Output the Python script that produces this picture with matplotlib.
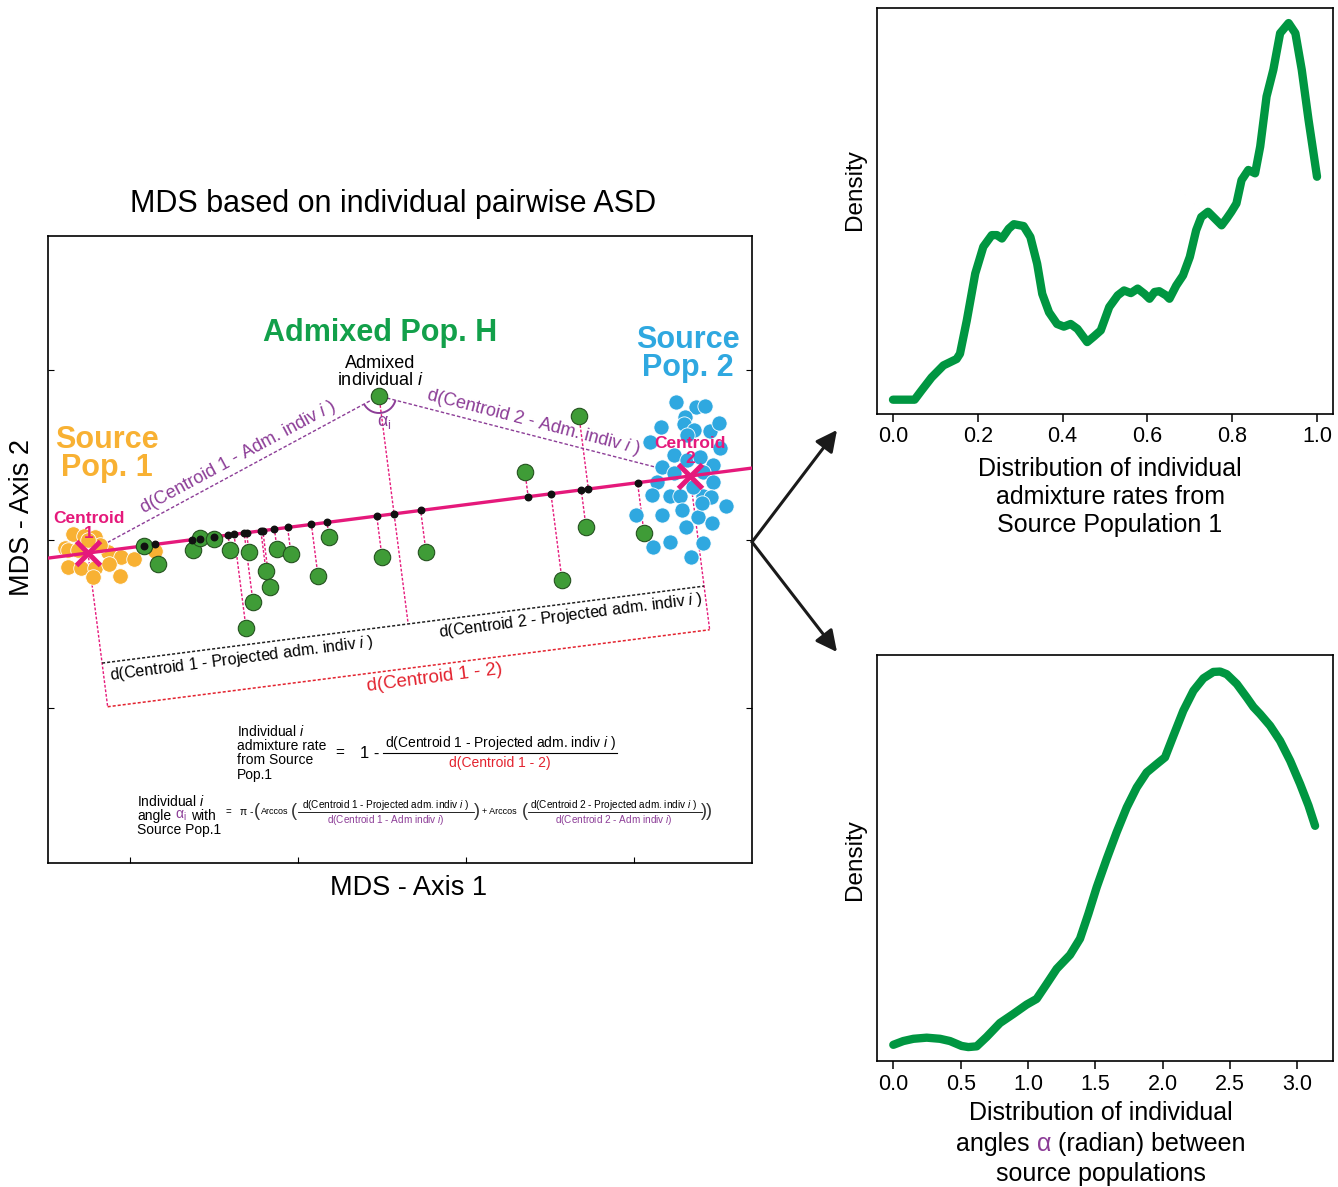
import numpy as np
import matplotlib
matplotlib.use("Agg")
import matplotlib.pyplot as plt
from matplotlib.patches import Arc

plt.rcParams["font.family"] = ["Liberation Sans", "DejaVu Sans"]
plt.rcParams["mathtext.fontset"] = "custom"
plt.rcParams["mathtext.rm"] = "Liberation Sans"
plt.rcParams["mathtext.it"] = "Liberation Sans:italic"
plt.rcParams["mathtext.bf"] = "Liberation Sans:bold"

PINK = "#e5197b"
GREEN_TXT = "#12a04a"
GREEN_DOT = "#3f9c37"
ORANGE = "#f8b133"
BLUE = "#2fa8e0"
PURPLE = "#8c3d97"
RED = "#e3232f"
CURVE = "#009641"

# ---- MDS coordinates (axis 1, axis 2) ----
centroid1 = (40, 310)
centroid2 = (642, 387)
indiv_i = (331, 467)

adm_x = [96, 110, 145, 152, 166, 182, 201, 218, 222, 205, 198, 229, 243, 270, 281,
         334, 378, 477, 531, 538, 514, 596]
adm_y = [317, 299, 313, 325, 324, 313, 311, 292, 276, 261, 235, 314, 309, 287, 326,
         306, 311, 391, 447, 336, 283, 330]

src1_x = [17, 25, 36, 47, 20, 30, 60, 73, 86, 20, 33, 47, 61, 45, 72, 107, 52, 40]
src1_y = [315, 329, 327, 326, 313, 313, 311, 306, 304, 296, 295, 295, 299, 286, 287, 312, 318, 323]

src2_x = [628, 648, 657, 637, 636, 613, 646, 662, 671, 639, 602, 626, 639, 652, 672, 665,
          614, 626, 655, 609, 665, 604, 622, 632, 655, 663, 678, 588, 614, 634, 650, 664,
          638, 605, 622, 655, 643, 654, 645]
src2_y = [461, 456, 457, 446, 439, 436, 433, 432, 440, 428, 421, 408, 403, 406, 415, 398,
          396, 390, 391, 381, 381, 368, 367, 367, 367, 366, 357, 348, 348, 353, 346, 340,
          336, 316, 321, 320, 306, 360, 376]

# ---- density curves ----
rate_x = [0.000, 0.051, 0.067, 0.091, 0.119, 0.150, 0.158, 0.174, 0.194, 0.213, 0.233,
          0.245, 0.257, 0.273, 0.285, 0.308, 0.324, 0.340, 0.352, 0.368, 0.387, 0.403,
          0.419, 0.435, 0.458, 0.474, 0.490, 0.510, 0.530, 0.545, 0.561, 0.577, 0.593,
          0.605, 0.617, 0.628, 0.644, 0.652, 0.668, 0.684, 0.700, 0.715, 0.727, 0.743,
          0.759, 0.775, 0.787, 0.798, 0.810, 0.822, 0.838, 0.854, 0.866, 0.881, 0.897,
          0.913, 0.933, 0.949, 0.964, 0.980, 1.000]
rate_d = [0.000, 0.000, 0.024, 0.059, 0.091, 0.108, 0.122, 0.210, 0.335, 0.406, 0.437,
          0.437, 0.428, 0.454, 0.466, 0.461, 0.432, 0.361, 0.281, 0.232, 0.201, 0.194,
          0.201, 0.188, 0.153, 0.168, 0.184, 0.246, 0.277, 0.290, 0.283, 0.295, 0.281,
          0.268, 0.286, 0.288, 0.277, 0.268, 0.303, 0.330, 0.379, 0.450, 0.485, 0.499,
          0.481, 0.463, 0.481, 0.499, 0.521, 0.583, 0.610, 0.601, 0.672, 0.805, 0.876,
          0.973, 1.000, 0.973, 0.876, 0.743, 0.592]

angle_x = [0.000, 0.074, 0.149, 0.248, 0.347, 0.421, 0.507, 0.557, 0.619, 0.693, 0.792,
           0.891, 0.990, 1.064, 1.139, 1.213, 1.312, 1.386, 1.448, 1.510, 1.584, 1.658,
           1.733, 1.807, 1.881, 1.955, 2.017, 2.079, 2.153, 2.228, 2.302, 2.376, 2.426,
           2.475, 2.550, 2.624, 2.673, 2.723, 2.797, 2.871, 2.946, 3.020, 3.082, 3.131]
angle_d = [0.006, 0.016, 0.022, 0.025, 0.022, 0.016, 0.003, 0.000, 0.002, 0.027, 0.064,
           0.088, 0.113, 0.128, 0.168, 0.208, 0.245, 0.288, 0.354, 0.425, 0.500, 0.571,
           0.637, 0.690, 0.730, 0.752, 0.770, 0.827, 0.894, 0.947, 0.980, 0.997, 0.998,
           0.991, 0.965, 0.929, 0.904, 0.885, 0.854, 0.814, 0.761, 0.699, 0.642, 0.588]

rate_ticks = [0.0, 0.2, 0.4, 0.6, 0.8, 1.0]
angle_ticks = [0.0, 0.5, 1.0, 1.5, 2.0, 2.5, 3.0]

W, H = 1338, 1187
fig = plt.figure(figsize=(W / 100, H / 100), dpi=100)


def frac(l, t, r, b):
    return [l / W, 1 - b / H, (r - l) / W, (b - t) / H]


# ================= MDS panel =================
ax = fig.add_axes(frac(48, 236, 752, 863))
ax.set_xlim(0, 704)
ax.set_ylim(0, 627)
ax.set_xticks([82, 250, 418, 586])
ax.set_yticks([155, 323, 493])
ax.tick_params(direction="in", length=4, width=0.8, right=True,
               labelleft=False, labelbottom=False)
for s in ax.spines.values():
    s.set_linewidth(1.2)

c1 = np.array(centroid1, float)
c2 = np.array(centroid2, float)
pi_ = np.array(indiv_i, float)
u = (c2 - c1) / np.linalg.norm(c2 - c1)
pd_ = np.array([u[1], -u[0]])  # perpendicular, pointing down
ang = np.degrees(np.arctan2(u[1], u[0]))


def foot(p):
    return c1 + np.dot(np.asarray(p, float) - c1, u) * u


# main axis through centroids
t0, t1 = (0 - c1[0]) / u[0], (704 - c1[0]) / u[0]
ax.plot([c1[0] + t0 * u[0], c1[0] + t1 * u[0]], [c1[1] + t0 * u[1], c1[1] + t1 * u[1]],
        color=PINK, lw=2.4, zorder=3)

dash = dict(color=PINK, lw=1.0, ls=(0, (2, 1.3)), zorder=1)
feet = [foot(p) for p in zip(adm_x, adm_y)]
for px_, py_, f in zip(adm_x, adm_y, feet):
    ax.plot([px_, f[0]], [py_, f[1]], **dash)
fi = foot(pi_)
b1, b2 = 111, 155
ax.plot([pi_[0], fi[0] + b1 * pd_[0]], [pi_[1], fi[1] + b1 * pd_[1]], **dash)
for c in (c1, c2):
    e = c + b2 * pd_
    ax.plot([c[0], e[0]], [c[1], e[1]], **dash)

# brackets
bk = np.array([c1 + b1 * pd_, fi + b1 * pd_, c2 + b1 * pd_])
ax.plot(bk[:, 0], bk[:, 1], color="#222222", lw=1.1, ls=(0, (2, 1.3)))
rb = np.array([c1 + b2 * pd_, c2 + b2 * pd_])
ax.plot(rb[:, 0], rb[:, 1], color=RED, lw=1.1, ls=(0, (2, 1.3)))

# purple distances to the admixed individual
end2 = pi_ + 0.9 * (c2 - pi_)
ax.plot([c1[0], pi_[0], end2[0]], [c1[1], pi_[1], end2[1]], color=PURPLE, lw=1.0,
        ls=(0, (2.5, 1.5)), zorder=1.5)
a1 = np.degrees(np.arctan2(*(c1 - pi_)[::-1]))
a2 = np.degrees(np.arctan2(*(c2 - pi_)[::-1]))
ax.add_patch(Arc(pi_, 34, 34, theta1=a1, theta2=a2 % 360, color=PURPLE, lw=1.4, zorder=4))

# points
ax.scatter(src1_x, src1_y, s=125, c=ORANGE, edgecolors="white", linewidths=0.6, zorder=2)
ax.scatter(src2_x, src2_y, s=120, c=BLUE, edgecolors="white", linewidths=0.6, zorder=2)
ax.scatter(adm_x + [pi_[0]], adm_y + [pi_[1]], s=140, c=GREEN_DOT, edgecolors="#24521f",
           linewidths=0.8, zorder=4)
fx = [f[0] for f in feet] + [fi[0]]
fy = [f[1] for f in feet] + [fi[1]]
ax.scatter(fx, fy, s=22, c="#111111", zorder=5)
for c in (c1, c2):
    ax.plot(c[0], c[1], marker="x", ms=17, mew=3.6, color=PINK, zorder=6)

# labels inside the MDS panel
bold = dict(fontweight="bold", ha="center", va="center", zorder=7, linespacing=0.95)
ax.text(332, 530, "Admixed Pop. H", color=GREEN_TXT, fontsize=22, **bold)
ax.text(59, 409, "Source\nPop. 1", color=ORANGE, fontsize=22, **bold)
ax.text(640, 509, "Source\nPop. 2", color=BLUE, fontsize=22, **bold)
ax.text(41, 337, "Centroid\n1", color=PINK, fontsize=12.5, **bold)
ax.text(642, 412, "Centroid\n2", color=PINK, fontsize=12.5, **bold)
ax.text(332, 491, "Admixed\nindividual $i$", fontsize=13, ha="center", va="center",
        zorder=7, linespacing=0.95)
ax.text(336, 441, r"$\mathregular{α_i}$", color=PURPLE, fontsize=13, ha="center",
        va="center", zorder=7)

# text along the purple lines
d1 = (pi_ - c1) / np.linalg.norm(pi_ - c1)
n1 = np.array([-d1[1], d1[0]])
p = c1 + 177 * d1 + 3 * n1
ax.text(p[0], p[1], "d(Centroid 1 - Adm. indiv $i$ )", color=PURPLE, fontsize=13,
        rotation=np.degrees(np.arctan2(d1[1], d1[0])), rotation_mode="anchor",
        ha="center", va="bottom", zorder=7)
d2 = (c2 - pi_) / np.linalg.norm(c2 - pi_)
n2 = np.array([-d2[1], d2[0]])
p = pi_ + 156 * d2 + 3 * n2
ax.text(p[0], p[1], "d(Centroid 2 - Adm. indiv $i$ )", color=PURPLE, fontsize=13,
        rotation=np.degrees(np.arctan2(d2[1], d2[0])), rotation_mode="anchor",
        ha="center", va="bottom", zorder=7)

# text along the brackets (both below the black bracket)
p = c1 + (b1 + 4) * pd_ + 6 * u
ax.text(p[0], p[1], "d(Centroid 1 - Projected adm. indiv $i$ )", fontsize=11.5,
        rotation=ang, rotation_mode="anchor", ha="left", va="top", zorder=7)
p = c2 + (b1 + 3) * pd_ - 3 * u
ax.text(p[0], p[1], "d(Centroid 2 - Projected adm. indiv $i$ )", fontsize=11.5,
        rotation=ang, rotation_mode="anchor", ha="right", va="top", zorder=7)
p = (c1 + c2) / 2 + (b2 + 4) * pd_ + 25 * u
ax.text(p[0], p[1], "d(Centroid 1 - 2)", color=RED, fontsize=13.5, rotation=ang,
        rotation_mode="anchor", ha="center", va="top", zorder=7)

# ================= density panels =================
def density_panel(box, x, d, ticks, xlim, ylim):
    a = fig.add_axes(frac(*box))
    a.plot(x, d, color=CURVE, lw=6, solid_capstyle="round", solid_joinstyle="round")
    a.set_xlim(*xlim)
    a.set_ylim(*ylim)
    a.set_xticks(ticks)
    a.set_xticklabels([f"{t:.1f}" for t in ticks])
    a.set_yticks([])
    a.tick_params(axis="x", direction="out", length=6, width=1.1, labelsize=15.5, pad=3)
    for s in a.spines.values():
        s.set_linewidth(1.2)
    return a


density_panel((877, 8, 1333, 414), rate_x, rate_d, rate_ticks,
              (-0.0377, 1.0377), (-0.038, 1.04))
density_panel((877, 655, 1333, 1061), angle_x, angle_d, angle_ticks,
              (-0.121, 3.264), (-0.037, 1.042))

# ================= overlay (pixel coordinates) =================
bg = fig.add_axes([0, 0, 1, 1])
bg.set_xlim(0, W)
bg.set_ylim(H, 0)
bg.axis("off")

renderer = fig.canvas.get_renderer()


def rich(x, y, parts, size, ha="left"):
    """Draw (text, colour) pieces on one line separated by single spaces."""
    sp = 0.278 * size * fig.dpi / 72
    arts = [bg.text(0, y, s, color=c, fontsize=size, ha="left", va="center")
            for s, c in parts]
    widths = [a.get_window_extent(renderer).width for a in arts]
    total = sum(widths) + sp * (len(arts) - 1)
    x0 = x - total / 2 if ha == "center" else x
    for a, w in zip(arts, widths):
        a.set_x(x0)
        x0 += w + sp


bg.text(393, 204, "MDS based on individual pairwise ASD", fontsize=22, ha="center",
        va="center")
bg.text(409, 888, "MDS - Axis 1", fontsize=19.5, ha="center", va="center")
bg.text(22, 518, "MDS - Axis 2", fontsize=19.5, rotation=90, ha="center", va="center")

# admixture-rate formula
bg.text(237, 753, "Individual $i$\nadmixture rate\nfrom Source\nPop.1", fontsize=10,
        ha="left", va="center", linespacing=1.0)
bg.text(340, 753, "=", fontsize=11, ha="center", va="center")
bg.text(360, 753, "1 -", fontsize=12, ha="left", va="center")
bg.text(500, 743, "d(Centroid 1 - Projected adm. indiv $i$ )", fontsize=10,
        ha="center", va="center")
bg.plot([383, 617], [753, 753], color="black", lw=0.8)
bg.text(500, 763, "d(Centroid 1 - 2)", color=RED, fontsize=10, ha="center", va="center")

# angle formula
bg.text(137, 802, "Individual $i$", fontsize=10, ha="left", va="center")
rich(137, 816, [("angle", "black"), (r"$\mathregular{α_i}$", PURPLE), ("with", "black")], 10)
bg.text(137, 830, "Source Pop.1", fontsize=10, ha="left", va="center")
bg.text(228, 812, "=", fontsize=7, ha="center", va="center")
bg.text(240, 812, "π -", fontsize=7.5, ha="left", va="center")
for xx, s in [(257, "("), (294, "("), (477, ")"), (525, "("), (707, "))")]:
    bg.text(xx, 812, s, fontsize=13, ha="center", va="center", color="#333333")
bg.text(261, 812, "Arccos", fontsize=6.5, ha="left", va="center")
bg.text(482, 812, "+ Arccos", fontsize=6.5, ha="left", va="center")
for cx, x0, x1, den in [(386, 298, 474, "d(Centroid 1 - Adm indiv $i$)"),
                        (614, 528, 702, "d(Centroid 2 - Adm indiv $i$)")]:
    num = "d(Centroid %s - Projected adm. indiv $i$ )" % den[11]
    bg.text(cx, 805, num, fontsize=7.2, ha="center", va="center")
    bg.plot([x0, x1], [812, 812], color="black", lw=0.6)
    bg.text(cx, 820, den, fontsize=7.2, color=PURPLE, ha="center", va="center")

# right-panel labels
bg.text(855, 190, "Density", fontsize=17.5, rotation=90, ha="center", va="center")
bg.text(855, 860, "Density", fontsize=17.5, rotation=90, ha="center", va="center")
bg.text(1110, 497, "Distribution of individual\nadmixture rates from\nSource Population 1",
        fontsize=18, ha="center", va="center", linespacing=1.22)
bg.text(1101, 1113, "Distribution of individual", fontsize=18, ha="center", va="center")
rich(1101, 1144, [("angles", "black"), ("α", PURPLE), ("(radian) between", "black")], 18,
     ha="center")
bg.text(1101, 1174, "source populations", fontsize=18, ha="center", va="center")

# arrows
for tip in [(837, 430), (837, 652)]:
    bg.annotate("", xy=tip, xytext=(752, 542),
                arrowprops=dict(arrowstyle="-|>", lw=2.2, color="#1a1a1a",
                                mutation_scale=32, shrinkA=0, shrinkB=0))

fig.savefig("out.png", dpi=100)
